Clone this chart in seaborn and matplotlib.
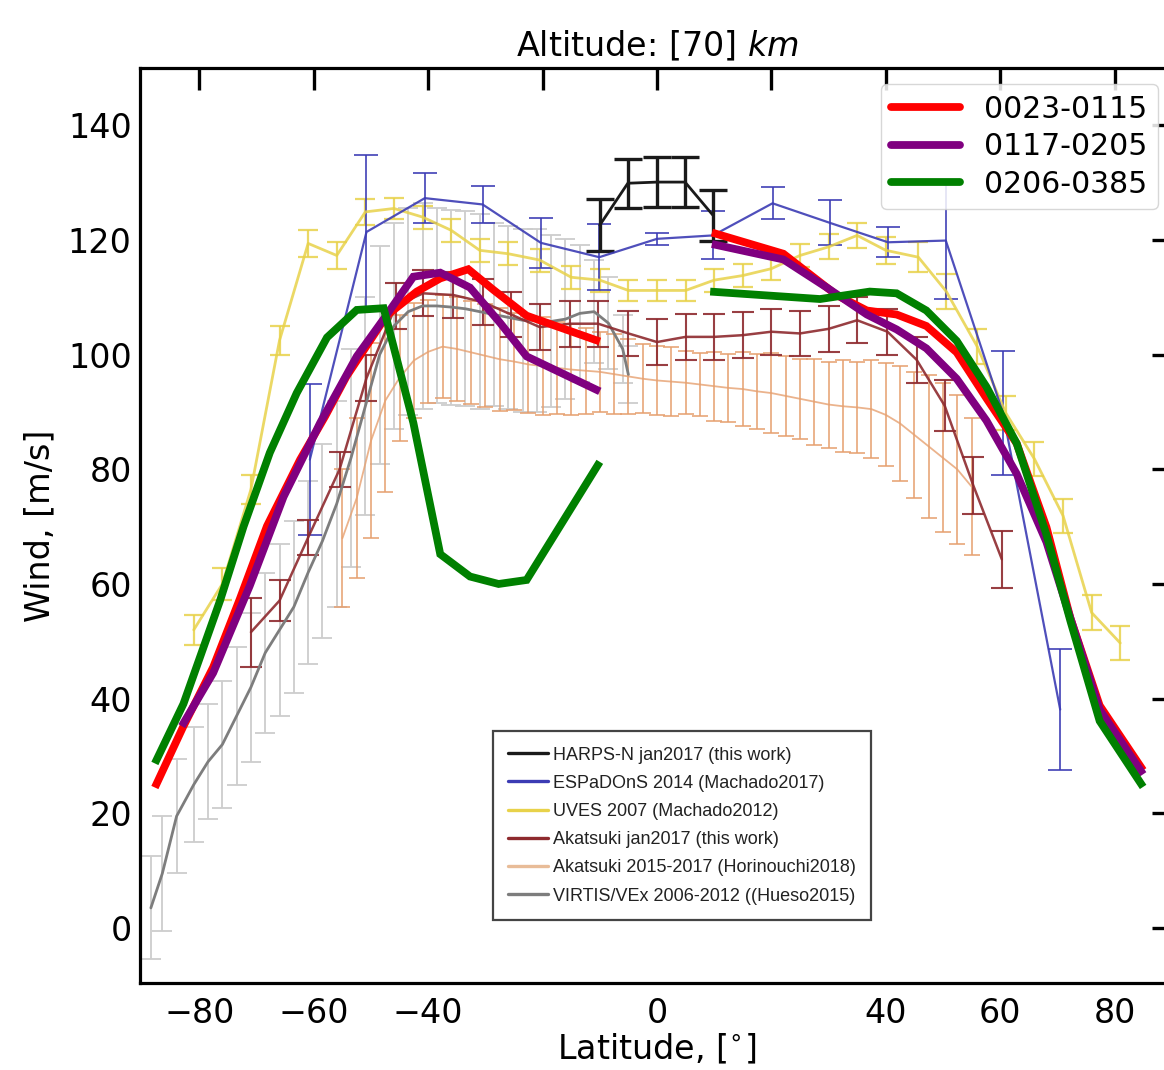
import matplotlib
matplotlib.use("Agg")
import matplotlib.pyplot as plt
import seaborn as sns
from matplotlib.lines import Line2D

# ------------------------------------------------------------------
# DATA
# ------------------------------------------------------------------

# thick overlay lines, each split into a southern and northern piece
RED_S_LAT = [-87.8, -82.9, -77.6, -72.9, -68.2, -62.4, -58.0, -54.3, -47.3, -42.0, -37.9, -33.0, -28.6, -22.8, -10.0]
RED_S = [24.5, 35.0, 45.5, 57.5, 70.1, 81.7, 89.3, 96.2, 106.8, 111.0, 113.3, 114.9, 111.3, 106.8, 102.3]
RED_N_LAT = [9.6, 22.1, 31.4, 36.7, 41.9, 47.1, 52.4, 57.6, 62.9, 68.1, 72.3, 77.4, 85.0]
RED_N = [121.3, 117.6, 110.4, 107.7, 107.0, 105.0, 100.4, 92.4, 84.5, 69.9, 54.0, 38.8, 27.5]

PURPLE_S_LAT = [-83.1, -77.6, -71.2, -65.3, -58.9, -52.5, -47.8, -42.6, -37.9, -32.7, -27.4, -22.8, -10.0]
PURPLE_S = [35.2, 44.5, 59.7, 75.2, 88.1, 99.7, 106.2, 113.6, 114.3, 111.7, 105.5, 99.7, 93.6]
PURPLE_N_LAT = [9.6, 22.1, 29.7, 36.7, 41.9, 47.1, 52.4, 57.6, 62.9, 68.1, 72.3, 77.4, 85.0]
PURPLE_N = [119.3, 116.6, 111.7, 107.0, 104.4, 101.1, 95.8, 88.5, 79.2, 67.3, 54.0, 38.1, 26.8]

GREEN_S_LAT = [-87.8, -82.8, -76.4, -72.3, -67.7, -63.0, -57.7, -52.5, -47.8, -42.6, -37.9, -32.7, -27.7, -22.8, -10.0]
GREEN_S = [28.7, 39.1, 57.1, 70.0, 82.9, 93.3, 103.0, 107.8, 108.1, 88.1, 65.2, 61.3, 60.0, 60.7, 81.3]
GREEN_N_LAT = [9.3, 28.5, 37.2, 41.9, 47.1, 52.4, 57.6, 62.9, 68.1, 72.3, 77.4, 85.0]
GREEN_N = [111.0, 109.7, 111.0, 110.7, 107.7, 102.4, 94.4, 84.5, 68.6, 53.5, 36.1, 24.6]

# reference profiles drawn in the background
HARPS_LAT = [-10.0, -5.1, 0.0, 4.9, 9.8]
HARPS = [122.6, 129.9, 130.1, 130.1, 124.3]
HARPS_ERR = [4.5, 4.3, 4.3, 4.3, 4.5]

ESP_LAT = [-60.7, -50.8, -40.6, -30.5, -20.3, -10.1, 0.0, 9.8, 20.2, 30.2, 40.4, 50.5, 60.5, 70.5]
ESP = [81.7, 121.4, 127.3, 126.2, 119.5, 117.0, 120.2, 120.8, 126.4, 123.0, 119.6, 119.9, 89.8, 38.1]
ESP_ERR = [13.2, 13.5, 4.4, 3.2, 4.4, 5.8, 1.0, 4.2, 2.8, 3.9, 2.6, 10.2, 10.8, 10.6]

UVES_LAT = [-81.0, -76.0, -71.0, -66.0, -61.0, -56.0, -51.0, -46.0, -41.0, -36.0, -31.0, -26.0,
            -20.5, -15.0, -10.0, -5.0, 0.0, 5.0, 10.0, 15.0, 20.0, 25.0, 30.0, 35.0, 40.0,
            45.7, 50.6, 56.0, 61.0, 66.0, 71.0, 76.0, 81.0]
UVES = [52.0, 60.0, 76.5, 102.5, 119.4, 117.3, 124.9, 125.5, 124.0, 121.7, 118.2, 117.6,
        116.5, 113.5, 113.0, 111.2, 111.2, 111.2, 113.0, 113.8, 115.0, 117.3, 118.8, 120.8, 118.2,
        117.0, 111.0, 101.4, 89.8, 81.8, 71.9, 55.0, 49.7]
UVES_ERR = [2.6, 2.8, 2.5, 2.5, 2.4, 2.3, 2.3, 1.8, 2.0, 2.0, 2.0, 2.0,
            2.0, 2.0, 2.0, 1.8, 1.8, 1.8, 2.0, 2.0, 2.0, 2.0, 2.2, 2.2, 2.4,
            2.6, 3.0, 3.0, 3.0, 3.0, 3.0, 3.0, 3.0]

AKA_LAT = [-71.0, -66.0, -61.0, -55.5, -50.8, -45.7, -40.9, -35.6, -30.5, -25.5, -20.5, -15.2, -10.3,
           -5.0, 0.0, 5.0, 10.0, 15.0, 20.0, 25.0, 30.0, 35.0, 40.3, 45.4, 50.3, 55.3, 60.3]
AKA = [51.6, 57.1, 68.1, 80.0, 95.9, 108.5, 110.7, 110.4, 109.2, 107.0, 104.8, 105.4, 105.4,
       103.7, 102.2, 103.1, 103.1, 103.4, 104.0, 103.7, 104.5, 106.0, 104.0, 99.1, 91.1, 77.2, 64.3]
AKA_ERR = [6.0, 3.6, 3.0, 3.0, 4.0, 4.0, 4.0, 4.0, 4.0, 4.0, 4.0, 4.0, 4.0,
           4.0, 4.0, 4.0, 4.0, 4.0, 4.0, 4.0, 4.0, 4.0, 4.0, 4.0, 4.5, 5.0, 5.0]

HORI_LAT = [-55.0, -52.5, -50.0, -47.5, -45.0, -42.5, -40.0, -37.5, -35.0, -32.5, -30.0, -27.5,
            -25.0, -22.5, -20.0, -17.5, -15.0, -12.5, -10.0, -7.5, -5.0, -2.5, 0.0, 2.5, 5.0,
            7.5, 10.0, 12.5, 15.0, 17.5, 20.0, 22.5, 25.0, 27.5, 30.0, 32.5, 35.0, 37.5, 40.0,
            42.5, 45.0, 47.5, 50.0, 52.5, 55.0]
HORI = [68.0, 75.0, 85.0, 92.0, 96.0, 99.0, 100.5, 101.4, 101.0, 100.4, 99.8, 99.2,
        98.8, 98.3, 98.0, 97.7, 97.4, 97.2, 97.0, 96.6, 96.2, 95.8, 95.5, 95.3, 95.1,
        94.8, 94.5, 94.2, 94.0, 93.6, 93.3, 92.8, 92.3, 91.8, 91.3, 91.0, 90.8, 90.5, 89.5,
        88.0, 86.0, 84.0, 82.0, 80.0, 77.0]
HORI_ERR = [12, 14, 17, 16, 11, 10, 9, 9, 9, 9, 9, 9,
            8.5, 8.5, 8.5, 8, 8, 7.5, 7, 7, 6.5, 6, 6, 6, 5.5,
            5.5, 6, 6, 6.5, 6.5, 7, 7, 7, 7.5, 7.5, 8, 8, 8.5, 9,
            10, 11, 12.5, 13, 13, 12]

VIRTIS_LAT = [-88.5, -86.5, -84.0, -81.0, -78.5, -76.0, -73.5, -71.0, -68.5, -66.0, -63.5, -61.0,
              -58.5, -56.0, -53.5, -51.0, -48.5, -46.0, -43.5, -41.0, -38.5, -36.0, -33.5, -31.0,
              -28.5, -26.0, -23.5, -21.0, -18.5, -16.0, -13.5, -11.0, -8.5, -6.0, -5.0]
VIRTIS = [3.5, 9.5, 19.5, 25.0, 29.0, 32.0, 37.0, 42.0, 48.0, 52.0, 56.0, 62.0,
          67.5, 74.0, 82.0, 91.0, 100.0, 105.0, 107.5, 108.5, 108.5, 108.3, 108.0, 107.5,
          107.0, 106.5, 106.0, 106.0, 105.8, 106.2, 107.2, 107.5, 105.5, 101.0, 96.5]
VIRTIS_ERR = [9, 10, 10, 10, 10, 11, 12, 13, 14, 15, 15, 16,
              17, 18, 19, 19, 19, 18, 18, 18, 17, 17, 17, 17,
              16, 16, 16, 16, 15, 14, 12, 9, 8, 6, 5]

OVERLAY_LABELS = ["0023-0115", "0117-0205", "0206-0385"]
REF_LABELS = ["HARPS-N jan2017 (this work)", "ESPaDOnS 2014 (Machado2017)",
              "UVES 2007 (Machado2012)", "Akatsuki jan2017 (this work)",
              "Akatsuki 2015-2017 (Horinouchi2018)", "VIRTIS/VEx 2006-2012 ((Hueso2015)"]

X_TICKS = [-80, -60, -40, -20, 0, 20, 40, 60, 80]
X_TICK_LABELS = ["\u221280", "\u221260", "\u221240", "", "0", "", "40", "60", "80"]
Y_TICKS = [0, 20, 40, 60, 80, 100, 120, 140]

# ------------------------------------------------------------------
# STYLE
# ------------------------------------------------------------------

sns.set_theme(style="white")
plt.rcParams.update({"font.family": ["DejaVu Sans"], "mathtext.fontset": "dejavusans",
                     "axes.edgecolor": "black", "axes.linewidth": 2.3,
                     "text.color": "black", "axes.labelcolor": "black",
                     "xtick.color": "black", "ytick.color": "black"})

C_BLACK = "#1a1a1a"
C_BLUE = "#3c3cb4"
C_YELLOW = "#e8d24a"
C_DARKRED = "#8e2a2e"
C_ORANGE = "#e6a070"
C_GRAY = "#7d7d7d"
C_LGRAY = "#cdcdcd"


def ref_profile(ax, lat, val, err, color, lw, ecolor, elw, capsize, alpha=1.0):
    ax.errorbar(lat, val, yerr=err, fmt="none", ecolor=ecolor, elinewidth=elw,
                capsize=capsize, capthick=elw, alpha=alpha, zorder=2)
    sns.lineplot(x=lat, y=val, color=color, linewidth=lw, sort=False,
                 alpha=alpha, ax=ax, zorder=3)


def overlay(ax, lat, val, color):
    sns.lineplot(x=lat, y=val, color=color, linewidth=5.6, sort=False, ax=ax,
                 zorder=5, solid_joinstyle="miter", solid_capstyle="butt")


# ------------------------------------------------------------------
# FIGURE
# ------------------------------------------------------------------

fig = plt.figure(figsize=(11.64, 10.70), dpi=100)
ax = fig.add_axes([140 / 1164, 87 / 1070, 1034 / 1164, 915 / 1070])

ref_profile(ax, VIRTIS_LAT, VIRTIS, VIRTIS_ERR, C_GRAY, 2.0, C_LGRAY, 1.3, 7)
ref_profile(ax, HORI_LAT, HORI, HORI_ERR, C_ORANGE, 1.3, C_ORANGE, 1.4, 6, alpha=0.8)
ref_profile(ax, UVES_LAT, UVES, UVES_ERR, C_YELLOW, 2.0, C_YELLOW, 1.6, 7, alpha=0.85)
ref_profile(ax, ESP_LAT, ESP, ESP_ERR, C_BLUE, 1.6, C_BLUE, 1.3, 8.5, alpha=0.9)
ref_profile(ax, AKA_LAT, AKA, AKA_ERR, C_DARKRED, 1.8, C_DARKRED, 1.5, 8, alpha=0.9)
ref_profile(ax, HARPS_LAT, HARPS, HARPS_ERR, C_BLACK, 2.0, C_BLACK, 2.4, 10)

for lat, val, color in [(RED_S_LAT, RED_S, "#ff0000"), (RED_N_LAT, RED_N, "#ff0000"),
                        (PURPLE_S_LAT, PURPLE_S, "#800080"), (PURPLE_N_LAT, PURPLE_N, "#800080"),
                        (GREEN_S_LAT, GREEN_S, "#008000"), (GREEN_N_LAT, GREEN_N, "#008000")]:
    overlay(ax, lat, val, color)

ax.set_xlim(-90.4, 90.4)
ax.set_ylim(-9.6, 150)

ax.set_xticks(X_TICKS)
ax.set_xticklabels(X_TICK_LABELS)
ax.set_yticks(Y_TICKS)
ax.tick_params(axis="both", which="major", direction="in", length=16, width=2.4,
               color="black", labelcolor="black", labelsize=24, top=True, right=True)
ax.tick_params(axis="x", pad=10)
ax.tick_params(axis="y", pad=6)
for sp in ax.spines.values():
    sp.set_linewidth(2.3)
    sp.set_color("black")

ax.set_title("Altitude: [70] $km$", fontsize=24, pad=8, color="black")
ax.set_xlabel("Latitude, [$^{\\circ}$]", fontsize=24, labelpad=2, color="black")
ax.set_ylabel("Wind, [m/s]", fontsize=24, labelpad=8, color="black")

# legend of the thick lines (upper right)
h_over = [Line2D([], [], color=c, lw=5.6) for c in ["#ff0000", "#800080", "#008000"]]
leg1 = ax.legend(h_over, OVERLAY_LABELS, loc="upper right", fontsize=21.5,
                 handlelength=2.3, handletextpad=0.8, labelspacing=0.28,
                 borderpad=0.35, borderaxespad=0.55, framealpha=0.85,
                 edgecolor="#d0d0d0", fancybox=True)
for t in leg1.get_texts():
    t.set_color("black")
ax.add_artist(leg1)

# legend of the reference profiles (boxed, lower middle)
h_ref = [Line2D([], [], color=c, lw=2.4) for c in
         [C_BLACK, C_BLUE, C_YELLOW, C_DARKRED, "#e8bc98", C_GRAY]]
leg2 = ax.legend(h_ref, REF_LABELS, loc="lower left", bbox_to_anchor=(0.341, 0.069),
                 prop={"family": ["Liberation Sans Narrow", "Liberation Sans"], "size": 13},
                 handlelength=2.2, handletextpad=0.3, labelspacing=0.62,
                 borderpad=0.85, borderaxespad=0.0, fancybox=False, framealpha=1.0,
                 edgecolor="#444444")
leg2.get_frame().set_linewidth(1.6)
for t in leg2.get_texts():
    t.set_color("#222222")

fig.savefig("out.png", dpi=100)
